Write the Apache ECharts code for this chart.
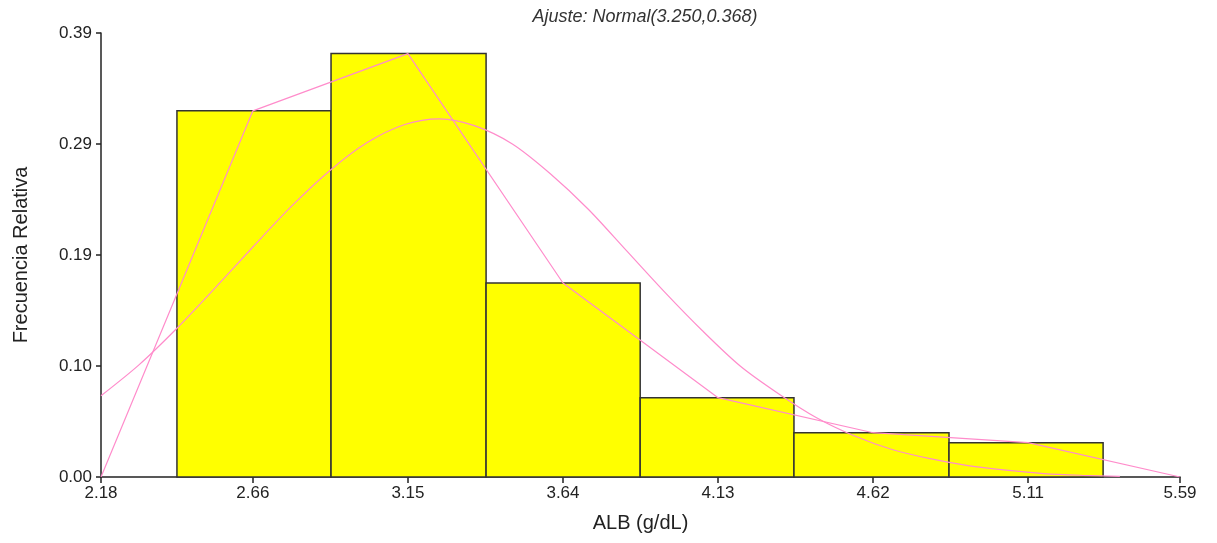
<!DOCTYPE html>
<html>
<head>
<meta charset="utf-8">
<script src="https://cdn.jsdelivr.net/npm/echarts@6/dist/echarts.min.js"></script>
<style>
  html, body { margin: 0; padding: 0; background: #ffffff; }
  #chart { width: 1217px; height: 543px; }
</style>
</head>
<body>
<div id="chart"></div>
<script>
// Histogram of ALB (g/dL): relative frequency per class
const binStart = [2.42, 2.907, 3.397, 3.884, 4.370, 4.860];
const binEnd   = [2.907, 3.397, 3.884, 4.370, 4.860, 5.347];
const relFreq  = [0.320, 0.370, 0.1695, 0.0693, 0.0387, 0.0300];

// Frequency polygon (class marks, closed at both ends of the axis)
const polyX = [2.18, 2.66, 3.15, 3.64, 4.13, 4.62, 5.11, 5.59];
const polyY = [0, 0.320, 0.370, 0.1695, 0.0693, 0.0387, 0.0300, 0];

// Fitted normal curve, Normal(3.250, 0.368)
const fitX = [2.18, 2.30, 2.42, 2.54, 2.66, 2.78, 2.90, 3.02, 3.14, 3.25,
              3.36, 3.48, 3.60, 3.72, 3.84, 3.96, 4.08, 4.20, 4.32, 4.44,
              4.56, 4.68, 4.80, 4.92, 5.04, 5.16, 5.28, 5.40];
const fitY = [0.071, 0.098, 0.130, 0.165, 0.201, 0.236, 0.267, 0.292, 0.308, 0.313,
              0.307, 0.291, 0.265, 0.234, 0.198, 0.162, 0.128, 0.097, 0.073, 0.052,
              0.036, 0.024, 0.016, 0.010, 0.006, 0.003, 0.0015, 0.0006];

// Axis ticks
const xTicks = [2.18, 2.66, 3.15, 3.64, 4.13, 4.62, 5.11, 5.59];
const yTicks = [0, 0.097, 0.194, 0.291, 0.388];

const chart = echarts.init(document.getElementById('chart'), null, { renderer: 'canvas' });

const font = 'Liberation Sans, Arial, sans-serif';
const inkColor = '#222222';
const lineColor = '#ff8ccb';

const barData = binStart.map((s, i) => [s, binEnd[i], relFreq[i]]);
const polyData = polyX.map((x, i) => [x, polyY[i]]);
const fitData = fitX.map((x, i) => [x, fitY[i]]);

chart.setOption({
  animation: false,
  backgroundColor: '#ffffff',
  title: {
    text: 'Ajuste: Normal(3.250,0.368)',
    left: 640, top: 3, textAlign: 'center',
    textStyle: { fontFamily: font, fontSize: 18, fontStyle: 'italic', fontWeight: 'normal', color: '#333333' }
  },
  grid: { left: 101, right: 37, top: 33, bottom: 66, containLabel: false, outerBoundsMode: 'none' },
  xAxis: {
    type: 'value',
    min: xTicks[0], max: xTicks[xTicks.length - 1],
    name: 'ALB (g/dL)', nameLocation: 'middle', nameGap: 36,
    nameTextStyle: { fontFamily: font, fontSize: 20, color: inkColor },
    axisLine: { show: true, onZero: false, lineStyle: { color: inkColor, width: 1.5 } },
    axisTick: { show: true, length: 6, customValues: xTicks, lineStyle: { color: inkColor, width: 1.5 } },
    axisLabel: {
      show: true, customValues: xTicks, margin: 8,
      fontFamily: font, fontSize: 17, color: inkColor,
      formatter: v => v.toFixed(2)
    },
    splitLine: { show: false }
  },
  yAxis: {
    type: 'value',
    min: yTicks[0], max: yTicks[yTicks.length - 1],
    name: 'Frecuencia Relativa', nameLocation: 'middle', nameGap: 70,
    nameTextStyle: { fontFamily: font, fontSize: 20, color: inkColor },
    axisLine: { show: true, lineStyle: { color: inkColor, width: 1.5 } },
    axisTick: { show: true, length: 5, customValues: yTicks, lineStyle: { color: inkColor, width: 1.5 } },
    axisLabel: {
      show: true, customValues: yTicks, margin: 9,
      fontFamily: font, fontSize: 17, color: inkColor,
      formatter: v => v.toFixed(2)
    },
    splitLine: { show: false }
  },
  series: [
    {
      type: 'custom',
      name: 'Frecuencia',
      data: barData,
      encode: { x: [0, 1], y: 2 },
      z: 2,
      renderItem: (params, api) => {
        const p0 = api.coord([api.value(0), api.value(2)]);
        const p1 = api.coord([api.value(1), 0]);
        return {
          type: 'rect',
          shape: { x: p0[0], y: p0[1], width: p1[0] - p0[0], height: p1[1] - p0[1] },
          style: { fill: '#ffff00', stroke: '#333333', lineWidth: 1.5 }
        };
      }
    },
    {
      type: 'line',
      name: 'Polígono',
      data: polyData,
      showSymbol: false,
      z: 3,
      lineStyle: { color: lineColor, width: 1.2 }
    },
    {
      type: 'line',
      name: 'Normal',
      data: fitData,
      smooth: 0.3,
      showSymbol: false,
      z: 3,
      lineStyle: { color: lineColor, width: 1.2 }
    }
  ]
});
</script>
</body>
</html>
